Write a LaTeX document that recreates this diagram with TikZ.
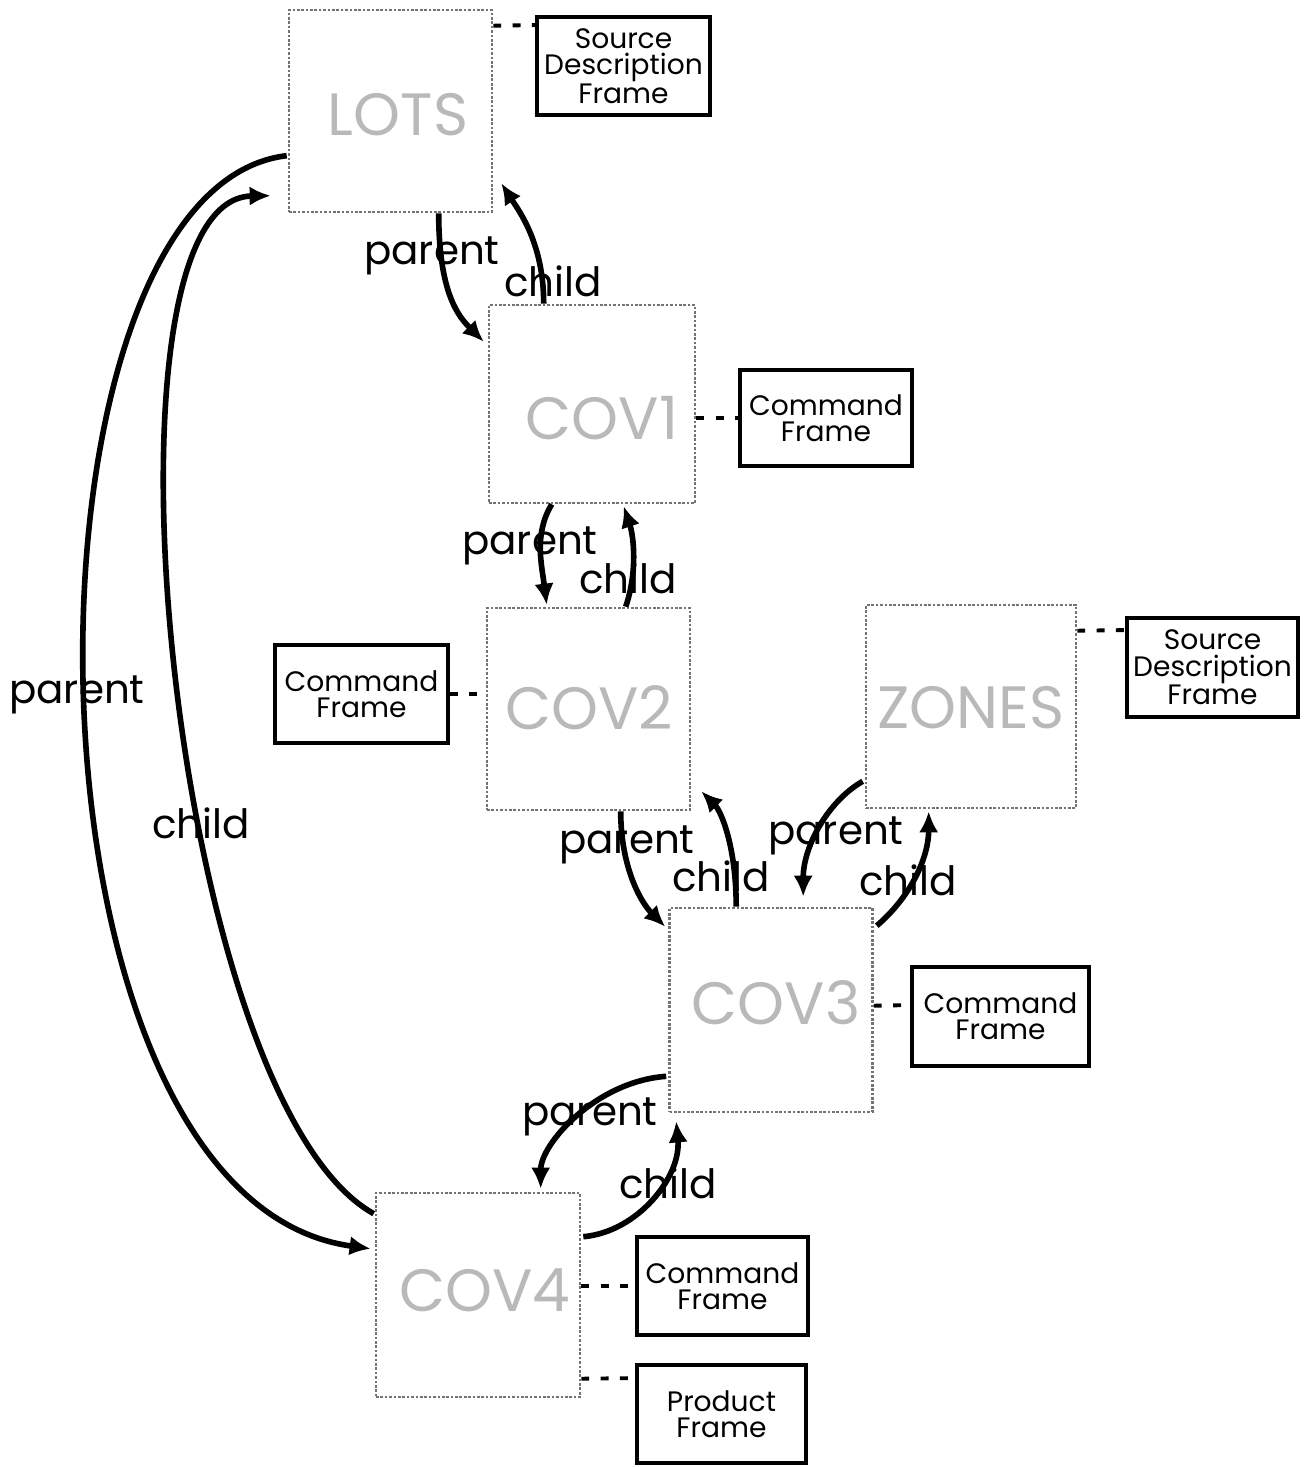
\documentclass[tikz,border=0pt]{standalone}
\usepackage{fontspec}
\setmainfont{Poppins}
\usetikzlibrary{calc,arrows.meta}
\begin{document}
\begin{tikzpicture}[x=0.02cm,y=-0.02cm,
  bigbox/.style={draw=black!55, densely dotted, line width=1.5pt, minimum width=4.06cm, minimum height=4.04cm, inner sep=0pt},
  boxtext/.style={text=gray!55, font=\fontsize{34}{34}\selectfont},
  framebox/.style={draw=black, line width=2.2pt, align=center, inner sep=0pt, minimum width=3.44cm, minimum height=1.96cm, font=\fontsize{16}{15}\selectfont},
  rel/.style={line width=3.2pt, -{Latex[length=12pt,width=11pt]}},
  lbl/.style={font=\fontsize{23}{23}\selectfont, anchor=mid},
  link/.style={line width=2.2pt, dash pattern=on 4.5pt off 6.5pt}
]
\useasboundingbox (0,0) rectangle (1306,1467);

% big boxes
\node[bigbox] (lots) at (390.5,111) {};
\node[bigbox, minimum width=4.12cm, minimum height=3.96cm] (cov1) at (592,404) {};
\node[bigbox] (cov2) at (588.5,709) {};
\node[bigbox, minimum width=4.2cm, minimum height=4.06cm] (zones) at (971,706.5) {};
\node[bigbox, minimum height=4.08cm] (cov3) at (771,1010) {};
\node[bigbox, minimum width=4.08cm, minimum height=4.08cm] (cov4) at (478,1295) {};

\node[boxtext] (lotsT) at (398,115) {LOTS};
\node[boxtext] (cov1T) at (602,418) {COV1};
\node[boxtext] (cov2T) at (589,708) {COV2};
\node[boxtext] (zonesT) at (971,708) {ZONES};
\node[boxtext] (cov3T) at (776,1003) {COV3};
\node[boxtext] (cov4T) at (485,1290) {COV4};

% frames
\node[framebox, minimum width=3.46cm] (sdf1) at (623.5,66) {Source\\Description\\Frame};
\node[framebox, minimum height=1.92cm] (cf1) at (826,418) {Command\\Frame};
\node[framebox, minimum width=3.46cm] (cf2) at (361.5,694) {Command\\Frame};
\node[framebox, minimum width=3.42cm, minimum height=1.98cm] (sdf2) at (1212.5,667.5) {Source\\Description\\Frame};
\node[framebox, minimum width=3.54cm, minimum height=1.98cm] (cf3) at (1000.5,1016.5) {Command\\Frame};
\node[framebox, minimum width=3.42cm] (cf4) at (722.5,1286) {Command\\Frame};
\node[framebox, minimum width=3.38cm] (pf) at (721.5,1414) {Product\\Frame};

% dashed links
\draw[link] ($(lots.north east)+(0,17)$) -- ($(sdf1.north west)+(0,10)$);
\draw[link] (cov1.east |- cf1.west) -- (cf1.west);
\draw[link] (cf2.east) -- (cov2.west |- cf2.east);
\draw[link] ($(zones.north east)+(0,27)$) -- ($(sdf2.north west)+(0,14)$);
\draw[link] ($(cov3.north east)+(0,99)$) -- ($(cf3.north west)+(0,40)$);
\draw[link] (cov4.east |- cf4.west) -- (cf4.west);
\draw[link] ($(cov4.north east)+(0,187)$) -- ($(pf.north west)+(0,15)$);

% relation arrows
\draw[rel] ($(lots.south west)+(151,0)$) .. controls +(0,80) and +(-25,-25) .. ($(cov1.north west)+(-4,38)$);
\draw[rel] ($(cov1.north west)+(56,0)$) .. controls +(0,-60) and +(18,28) .. ($(lots.south east)+(8,-30)$);
\draw[rel] ($(cov1.south west)+(64,0)$) .. controls +(-18,30) and +(-5,-40) .. ($(cov2.north west)+(61,-2)$);
\draw[rel] ($(cov2.north west)+(140,0)$) .. controls +(12,-35) and +(10,30) .. ($(cov1.south west)+(136,2)$);
\draw[rel] ($(cov2.south west)+(135,0)$) .. controls +(0,55) and +(-25,-25) .. ($(cov3.north west)+(-3,20)$);
\draw[rel] ($(cov3.north west)+(68,0)$) .. controls +(0,-60) and +(20,20) .. ($(cov2.south east)+(10,-20)$);
\draw[rel] ($(zones.south west)+(-2,-28)$) .. controls +(-35,20) and +(0,-50) .. ($(cov3.north west)+(135,-10)$);
\draw[rel] ($(cov3.north east)+(3,19)$) .. controls +(35,-30) and +(0,45) .. ($(zones.south west)+(64,2)$);
\draw[rel] ($(cov3.south west)+(-2,-37)$) .. controls +(-70,5) and +(0,-45) .. ($(cov4.north west)+(166,-3)$);
\draw[rel] ($(cov4.north east)+(2,45)$) .. controls +(55,-5) and +(5,55) .. ($(cov3.south west)+(8,8)$);
\draw[rel] ($(lots.north west)+(-1,147)$) .. controls +(-282,33) and +(-366,-50) .. ($(cov4.north west)+(-4,57)$);
\draw[rel] ($(cov4.north west)+(-1,22)$) .. controls +(-205,-115) and +(-185,3) .. ($(lots.north west)+(-17,187)$);

% labels
\node[lbl] (l1) at (432,260) {parent};
\node[lbl] (l2) at (553,292) {child};
\node[lbl] (l3) at (530,550) {parent};
\node[lbl] (l4) at (628,589) {child};
\node[lbl] (l5) at (77,699) {parent};
\node[lbl] (l6) at (201,834) {child};
\node[lbl] (l7) at (627,849) {parent};
\node[lbl] (l8) at (721,887) {child};
\node[lbl] (l9) at (836,840) {parent};
\node[lbl] (l10) at (908,891) {child};
\node[lbl] (l11) at (590,1121) {parent};
\node[lbl] (l12) at (668,1194) {child};
\end{tikzpicture}
\end{document}
